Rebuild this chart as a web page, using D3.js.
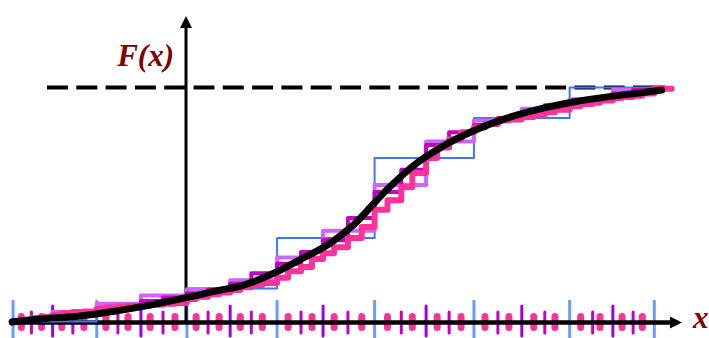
<!DOCTYPE html>
<html>
<head>
<meta charset="utf-8">
<script src="https://cdn.jsdelivr.net/npm/d3@7"></script>
<style>
  html, body { margin: 0; padding: 0; background: #fff; }
  svg { display: block; }
</style>
</head>
<body>
<svg id="chart" width="709" height="338"></svg>
<script>
// Sample points on the x axis, by refinement level
const blueTicks    = [-1.88, -0.97, 0.01, 0.99, 2.05, 3.13, 4.17, 5.09];
const violetTicks  = [-1.45, -0.49, 0.48, 1.49, 2.61, 3.65, 4.64];
const magentaTicks = [-1.68, -1.23, -0.74, -0.25, 0.24, 0.71, 1.25, 1.76, 2.34, 2.86, 3.39, 3.90, 4.42, 4.86];
const pinkTicks    = [-1.79, -1.57, -1.35, -1.11, -0.87, -0.63, -0.39, -0.12, 0.11, 0.36, 0.59, 0.83,
                      1.11, 1.37, 1.61, 1.91, 2.19, 2.46, 2.73, 2.99, 3.25, 3.51, 3.78, 4.01,
                      4.29, 4.50, 4.74, 4.96];

// Step heights (value after each breakpoint)
const blueSteps    = [0.004, 0.074, 0.145, 0.36, 0.70, 0.87, 1.0, 1.0];
const violetSteps  = [0.012, 0.045, 0.08, 0.115, 0.142, 0.18, 0.277, 0.39, 0.585, 0.77, 0.86, 0.91, 0.95, 0.99, 1.0];
const magentaSteps = [0.011, 0.02, 0.03, 0.04, 0.055, 0.07, 0.091, 0.106, 0.125, 0.14, 0.165, 0.21, 0.25, 0.30,
                      0.35, 0.445, 0.555, 0.65, 0.755, 0.81, 0.84, 0.87, 0.895, 0.925, 0.94, 0.955, 0.975, 0.99, 1.0];
const pinkSteps    = [0.006, 0.012, 0.018, 0.024, 0.032, 0.040, 0.045, 0.047, 0.058, 0.064, 0.068, 0.070,
                      0.072, 0.076, 0.080, 0.085, 0.100, 0.110, 0.120, 0.128, 0.138, 0.150, 0.160, 0.168,
                      0.19, 0.218, 0.236, 0.27, 0.295, 0.32, 0.36, 0.406, 0.48, 0.52, 0.576, 0.636,
                      0.70, 0.745, 0.78, 0.81, 0.83, 0.845, 0.86, 0.865, 0.875, 0.885, 0.895, 0.905,
                      0.92, 0.93, 0.935, 0.945, 0.955, 0.96, 0.965, 0.975, 0.995];

// The limiting distribution function F(x)
const curveX = [-1.89, -1.59, -1.15, -0.83, -0.39, 0.04, 0.37, 0.55, 0.91, 1.27, 1.57, 1.82,
                2.18, 2.51, 2.76, 3.12, 3.49, 3.85, 4.21, 4.58, 4.93, 5.17];
const curveF = [0.002, 0.015, 0.028, 0.045, 0.074, 0.109, 0.138, 0.151, 0.202, 0.274, 0.338, 0.415,
                0.564, 0.679, 0.743, 0.815, 0.870, 0.909, 0.938, 0.960, 0.977, 0.989];

const stepEnd = 5.2;
const pinkEnd = 5.28;

const svg = d3.select("#chart");
const x = d3.scaleLinear().domain([-2, 5.5]).range([2, 692]);
const y = d3.scaleLinear().domain([0, 1]).range([322.5, 87.5]);

const labelColor = "#800000";

// Marker heads for the axes
const defs = svg.append("defs");
defs.append("marker")
  .attr("id", "arrow")
  .attr("viewBox", "0 0 10 10")
  .attr("refX", 0).attr("refY", 5)
  .attr("markerUnits", "userSpaceOnUse")
  .attr("markerWidth", 17).attr("markerHeight", 12)
  .attr("orient", "auto")
  .append("path").attr("d", "M0,0 L10,5 L0,10 Z").attr("fill", "#000");

// Dashed upper bound F = 1
svg.append("line")
  .attr("x1", 47).attr("x2", x(5.15))
  .attr("y1", y(1)).attr("y2", y(1))
  .attr("stroke", "#000").attr("stroke-width", 4)
  .attr("stroke-dasharray", "21 8.3");

// Rug ticks at each sample point
const rug = svg.append("g");
function drawTicks(vals, color, width, top, bottom, cap) {
  rug.selectAll(null).data(vals).enter().append("line")
    .attr("x1", d => x(d)).attr("x2", d => x(d))
    .attr("y1", top).attr("y2", bottom)
    .attr("stroke", color).attr("stroke-width", width)
    .attr("stroke-linecap", cap);
}
drawTicks(blueTicks, "#6a9cff", 3, 300, 338, "butt");
drawTicks(violetTicks, "#9a00f0", 3, 306, 336, "round");
drawTicks(magentaTicks, "#c400c4", 3, 312, 333, "round");
drawTicks(pinkTicks, "#ff3399", 7, 316.5, 327.5, "round");

// Axes
svg.append("line")
  .attr("x1", x(-1.9)).attr("x2", 670)
  .attr("y1", y(0)).attr("y2", y(0))
  .attr("stroke", "#000").attr("stroke-width", 4.5)
  .attr("marker-end", "url(#arrow)");
svg.append("line")
  .attr("x1", x(0)).attr("x2", x(0))
  .attr("y1", y(0)).attr("y2", 28)
  .attr("stroke", "#000").attr("stroke-width", 3)
  .attr("marker-end", "url(#arrow)");

// Step approximations, coarse to fine
function stepPath(breaks, vals, end) {
  const pts = breaks.map((b, i) => [b, vals[i]]);
  pts.push([end, vals[vals.length - 1]]);
  return d3.line().x(d => x(d[0])).y(d => y(d[1])).curve(d3.curveStepAfter)(pts);
}
const merge = (...arrs) => arrs.flat().sort((a, b) => a - b);

const layers = [
  { breaks: blueTicks, vals: blueSteps, color: "#3f74ff", width: 2, end: stepEnd },
  { breaks: merge(blueTicks, violetTicks), vals: violetSteps, color: "#cc66ff", width: 4, end: stepEnd },
  { breaks: merge(blueTicks, violetTicks, magentaTicks), vals: magentaSteps, color: "#c400c4", width: 4, end: stepEnd },
  { breaks: merge(blueTicks, violetTicks, magentaTicks, pinkTicks), vals: pinkSteps, color: "#ff3399", width: 6, end: pinkEnd }
];
layers.forEach(l => {
  svg.append("path")
    .attr("d", stepPath(l.breaks, l.vals, l.end))
    .attr("fill", "none")
    .attr("stroke", l.color).attr("stroke-width", l.width)
    .attr("stroke-linejoin", "round").attr("stroke-linecap", "round");
});

// Limiting curve
svg.append("path")
  .datum(curveX.map((v, i) => [v, curveF[i]]))
  .attr("d", d3.line().x(d => x(d[0])).y(d => y(d[1])).curve(d3.curveMonotoneX))
  .attr("fill", "none").attr("stroke", "#000").attr("stroke-width", 7)
  .attr("stroke-linecap", "round");

// Labels
svg.append("text")
  .attr("x", 174).attr("y", 66)
  .attr("text-anchor", "end")
  .attr("font-family", "'Liberation Serif', 'DejaVu Serif', serif")
  .attr("font-style", "italic").attr("font-weight", "bold")
  .attr("font-size", 31).attr("fill", labelColor)
  .text("F(x)");
svg.append("text")
  .attr("x", 693).attr("y", 328)
  .attr("font-family", "'Liberation Serif', 'DejaVu Serif', serif")
  .attr("font-style", "italic").attr("font-weight", "bold")
  .attr("font-size", 31).attr("fill", labelColor)
  .text("x");
</script>
</body>
</html>
